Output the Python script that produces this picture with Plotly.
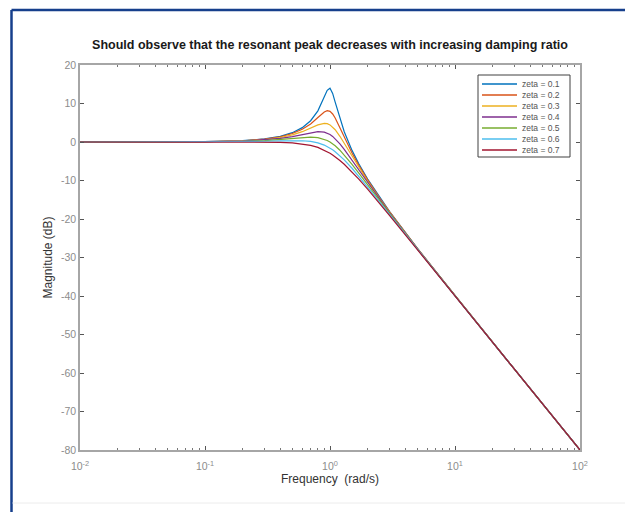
import plotly.graph_objects as go

# frequency points (rad/s)
freq = [0.01, 0.03, 0.1, 0.2, 0.3, 0.4, 0.5, 0.6, 0.7, 0.8, 0.9, 0.95, 1.0,
        1.05, 1.1, 1.2, 1.3, 1.5, 1.7, 2.0, 2.5, 3.0, 5.0, 10.0, 30.0, 100.0]

# magnitude (dB) read for each damping ratio
mag_01 = [0.00, 0.01, 0.09, 0.35, 0.80, 1.48, 2.42, 3.73, 5.53, 8.09, 11.64, 13.41, 13.98,
          12.63, 10.34, 6.00, 2.65, -2.18, -5.67, -9.62, -14.44, -18.09, -27.61, -39.92, -59.08, -80.00]
mag_02 = [0.00, 0.01, 0.08, 0.32, 0.74, 1.36, 2.20, 3.31, 4.70, 6.35, 7.81, 8.13, 7.96,
          7.28, 6.24, 3.73, 1.27, -2.84, -6.06, -9.84, -14.56, -18.16, -27.63, -39.92, -59.08, -80.00]
mag_03 = [0.00, 0.01, 0.07, 0.29, 0.65, 1.17, 1.85, 2.68, 3.60, 4.44, 4.85, 4.76, 4.44,
          3.90, 3.19, 1.48, -0.35, -3.75, -6.64, -10.19, -14.74, -18.28, -27.67, -39.93, -59.08, -80.00]
mag_04 = [0.00, 0.01, 0.06, 0.24, 0.53, 0.93, 1.41, 1.94, 2.41, 2.68, 2.56, 2.31, 1.94,
          1.45, 0.87, -0.47, -1.93, -4.78, -7.34, -10.63, -14.99, -18.44, -27.72, -39.94, -59.08, -80.00]
mag_05 = [0.00, 0.00, 0.04, 0.17, 0.37, 0.63, 0.90, 1.14, 1.25, 1.14, 0.73, 0.40, 0.00,
          -0.47, -0.98, -2.13, -3.36, -5.81, -8.10, -11.14, -15.29, -18.63, -27.79, -39.96, -59.08, -80.00]
mag_06 = [0.00, 0.00, 0.02, 0.09, 0.19, 0.29, 0.35, 0.32, 0.15, -0.22, -0.80, -1.17, -1.58,
          -2.04, -2.52, -3.56, -4.64, -6.82, -8.88, -11.69, -15.63, -18.86, -27.87, -39.98, -59.08, -80.00]
mag_07 = [0.00, 0.00, 0.00, 0.00, -0.02, -0.08, -0.22, -0.47, -0.87, -1.41, -2.11, -2.50, -2.92,
          -3.37, -3.83, -4.79, -5.79, -7.76, -9.66, -12.26, -16.00, -19.12, -27.96, -40.00, -59.09, -80.00]

series_names = ["zeta = 0.1", "zeta = 0.2", "zeta = 0.3", "zeta = 0.4",
                "zeta = 0.5", "zeta = 0.6", "zeta = 0.7"]
series_vals = [mag_01, mag_02, mag_03, mag_04, mag_05, mag_06, mag_07]
colors = ["#0072BD", "#D95319", "#EDB120", "#7E2F8E", "#77AC30", "#4DBEEE", "#A2142F"]

x_major = [0.01, 0.1, 1, 10, 100]
x_major_text = ["10<sup>-2</sup>", "10<sup>-1</sup>", "10<sup>0</sup>", "10<sup>1</sup>", "10<sup>2</sup>"]
y_ticks = [20, 10, 0, -10, -20, -30, -40, -50, -60, -70, -80]
y_tick_text = ["20", "10", "0", "-10", "-20", "-30", "-40", "-50", "-60", "-70", "-80"]

x_minor = []
for dec in [0.01, 0.1, 1, 10]:
    for k in range(2, 10):
        x_minor.append(dec * k)

FONT = "Liberation Sans, Arial, sans-serif"

fig = go.Figure()
for name, vals, col in zip(series_names, series_vals, colors):
    fig.add_trace(go.Scatter(x=freq, y=vals, mode="lines", name=name,
                             line=dict(color=col, width=1.2), showlegend=False))

axis_col = "#a6a6a6"
tick_font = dict(family=FONT, size=10.5, color="#8c8c8c")

# page body has an 8px margin: figure is 625x504 placed at (8,8) in the window
fig.update_layout(
    width=625, height=504,
    margin=dict(l=72, r=53, t=57, b=62),
    paper_bgcolor="white", plot_bgcolor="white",
    title=dict(text="<b>Should observe that the resonant peak decreases with increasing damping ratio</b>",
               x=0.5, xref="paper", xanchor="center", y=1 - 37 / 504, yanchor="middle",
               font=dict(family=FONT, size=12.5, color="#1a1a1a")),
    showlegend=False,
    xaxis=dict(type="log", range=[-2, 2], tickvals=x_major, ticktext=x_major_text,
               ticks="inside", ticklen=4, tickcolor="#555555", tickwidth=1,
               showline=True, linecolor=axis_col, linewidth=1.5, mirror="allticks",
               showgrid=False, zeroline=False, tickfont=tick_font, ticklabelstandoff=6,
               minor=dict(tickvals=x_minor, ticks="inside", ticklen=2, tickcolor="#777777", showgrid=False),
               title=dict(text="Frequency  (rad/s)", standoff=0,
                          font=dict(family=FONT, size=12, color="#333333"))),
    yaxis=dict(range=[-80, 20], tickvals=y_ticks, ticktext=y_tick_text,
               ticks="inside", ticklen=4, tickcolor="#555555", tickwidth=1,
               showline=True, linecolor=axis_col, linewidth=1.5, mirror="allticks",
               showgrid=False, zeroline=False, tickfont=tick_font,
               title=dict(text="Magnitude (dB)", standoff=6,
                          font=dict(family=FONT, size=12, color="#333333"))),
)

# compact legend box drawn in paper coordinates
lx0, lx1, ly0, ly1 = 0.796, 0.98, 0.761, 0.974
fig.add_shape(type="rect", xref="paper", yref="paper", x0=lx0, x1=lx1, y0=ly0, y1=ly1,
              line=dict(color="#404040", width=1), fillcolor="white", layer="above")
for i, (name, col) in enumerate(zip(series_names, colors)):
    yy = (450 - 84 - 11 * i) / 385
    fig.add_shape(type="line", xref="paper", yref="paper", x0=0.804, x1=0.874, y0=yy, y1=yy,
                  line=dict(color=col, width=1.5), layer="above")
    fig.add_annotation(xref="paper", yref="paper", x=0.880, y=yy, text=name, showarrow=False,
                       xanchor="left", yanchor="middle",
                       font=dict(family=FONT, size=8.5, color="#555555"))

# outer frame (dark blue top & left edges, faint bottom line)
fig.add_shape(type="line", xref="paper", yref="paper", x0=-0.137, x1=1.12, y0=1.1429, y1=1.1429,
              line=dict(color="#163f8c", width=2.5))
fig.add_shape(type="line", xref="paper", yref="paper", x0=-0.137, x1=-0.137, y0=1.1429, y1=-0.17,
              line=dict(color="#163f8c", width=2.5))
fig.add_shape(type="line", xref="paper", yref="paper", x0=-0.135, x1=1.12, y0=-0.1377, y1=-0.1377,
              line=dict(color="#ececec", width=1))

fig.write_html("out.html")
